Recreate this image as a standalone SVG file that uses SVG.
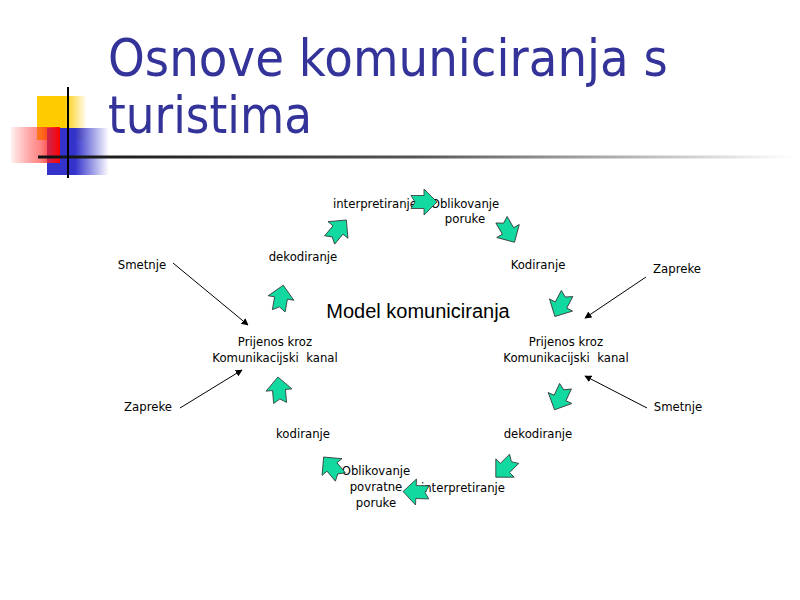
<svg xmlns="http://www.w3.org/2000/svg" width="800" height="600" viewBox="0 0 800 600">
<defs>
<linearGradient id="gy" x1="0" y1="0" x2="1" y2="0"><stop offset="0" stop-color="#FFCC00"/><stop offset="0.55" stop-color="#FFCC00"/><stop offset="1" stop-color="#FFCC00" stop-opacity="0"/></linearGradient>
<linearGradient id="gb" x1="0" y1="0" x2="1" y2="0"><stop offset="0" stop-color="#3333CC"/><stop offset="0.45" stop-color="#3333CC"/><stop offset="1" stop-color="#3333CC" stop-opacity="0"/></linearGradient>
<linearGradient id="gr" x1="0" y1="0" x2="1" y2="0"><stop offset="0" stop-color="#FF0000" stop-opacity="0.05"/><stop offset="0.6" stop-color="#FF3333" stop-opacity="0.6"/><stop offset="1" stop-color="#FF0000"/></linearGradient>
<linearGradient id="gl" x1="0" y1="0" x2="1" y2="0"><stop offset="0" stop-color="#111111"/><stop offset="0.5" stop-color="#555555"/><stop offset="1" stop-color="#FFFFFF"/></linearGradient>
<path id="ba" d="M -13,-6.5 L 0,-6.5 L 0,-13 L 13,0 L 0,13 L 0,6.5 L -13,6.5 L -9,0 Z"/>
<marker id="ah" viewBox="0 0 10 10" refX="9" refY="5" markerWidth="7" markerHeight="7" orient="auto" markerUnits="userSpaceOnUse"><path d="M0,0 L10,5 L0,10 Z" fill="#000"/></marker>
</defs>
<style>
.t{font-family:"DejaVu Sans",Verdana,sans-serif;font-size:11.7px;fill:#000;text-anchor:middle}
.title{font-family:"DejaVu Sans",Verdana,sans-serif;font-size:52px;fill:#333399}
.m{font-family:"Liberation Sans",Arial,sans-serif;font-size:20px;fill:#000;text-anchor:middle}
.ar use{fill:#11D9A0;stroke:#333;stroke-width:0.8}
.ln{stroke:#000;stroke-width:1;fill:none;marker-end:url(#ah)}
</style>
<rect width="800" height="600" fill="#fff"/>
<g id="decor">
<rect x="37" y="96" width="50" height="44" fill="url(#gy)"/>
<rect x="47" y="128" width="62" height="47" fill="url(#gb)"/>
<rect x="11" y="127" width="49" height="36" fill="url(#gr)"/>
<rect x="38" y="155.5" width="755" height="3" fill="url(#gl)"/>
<line x1="68" y1="87" x2="68" y2="178" stroke="#000" stroke-width="2"/>
</g>
<g id="title">
<text class="title" x="108" y="76" textLength="560" lengthAdjust="spacingAndGlyphs">Osnove komuniciranja s</text>
<text class="title" x="108" y="133" textLength="204" lengthAdjust="spacingAndGlyphs">turistima</text>
</g>
<g id="n-interp1"><text class="t" x="375" y="208">interpretiranje</text></g>
<g id="n-oblik1"><text class="t" x="465" y="208">Oblikovanje</text><text class="t" x="465" y="223">poruke</text></g>
<g id="n-dekod1"><text class="t" x="303" y="261">dekodiranje</text></g>
<g id="n-kodir1"><text class="t" x="538" y="269">Kodiranje</text></g>
<g id="n-smet1"><text class="t" x="142" y="269">Smetnje</text></g>
<g id="n-zapr1"><text class="t" x="677" y="273">Zapreke</text></g>
<g id="n-model"><text class="m" x="418" y="318">Model komuniciranja</text></g>
<g id="n-prij1"><text class="t" x="275" y="346">Prijenos kroz</text><text class="t" x="275" y="362" xml:space="preserve">Komunikacijski  kanal</text></g>
<g id="n-prij2"><text class="t" x="566" y="346">Prijenos kroz</text><text class="t" x="566" y="362" xml:space="preserve">Komunikacijski  kanal</text></g>
<g id="n-zapr2"><text class="t" x="148" y="411">Zapreke</text></g>
<g id="n-smet2"><text class="t" x="678" y="411">Smetnje</text></g>
<g id="n-kodir2"><text class="t" x="303" y="438">kodiranje</text></g>
<g id="n-dekod2"><text class="t" x="538" y="438">dekodiranje</text></g>
<g id="n-oblik2"><text class="t" x="376" y="475">Oblikovanje</text><text class="t" x="376" y="491">povratne</text><text class="t" x="376" y="507">poruke</text></g>
<g id="n-interp2"><text class="t" x="463" y="492">interpretiranje</text></g>
<g id="connectors">
<g class="ar">
<use href="#ba" transform="translate(338,230) rotate(-50)"/>
<use href="#ba" transform="translate(424,202)"/>
<use href="#ba" transform="translate(508,231) rotate(60)"/>
<use href="#ba" transform="translate(561,305) rotate(118)"/>
<use href="#ba" transform="translate(560,398) rotate(115)"/>
<use href="#ba" transform="translate(505,468) rotate(135)"/>
<use href="#ba" transform="translate(416,492) rotate(182)"/>
<use href="#ba" transform="translate(332,467) rotate(-130)"/>
<use href="#ba" transform="translate(279,390) rotate(-95)"/>
<use href="#ba" transform="translate(281,298) rotate(-80)"/>
</g>
<line class="ln" x1="173" y1="263" x2="248" y2="325"/>
<line class="ln" x1="180" y1="408" x2="242" y2="370"/>
<line class="ln" x1="646" y1="277" x2="585" y2="318"/>
<line class="ln" x1="647" y1="408" x2="585" y2="376"/>
</g>
</svg>
